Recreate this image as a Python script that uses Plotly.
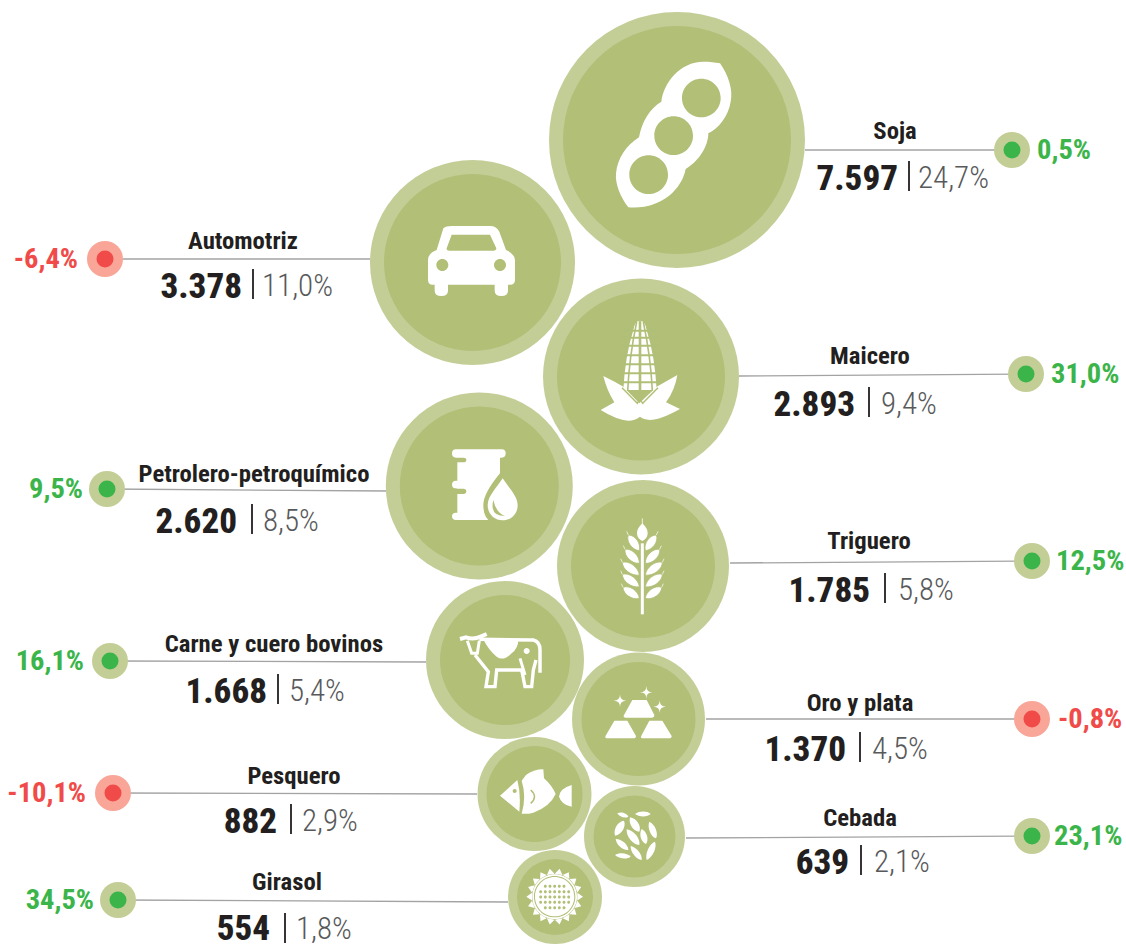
import re
import math
import plotly.graph_objects as go

# ---------- data ----------
sectors = ["Soja", "Automotriz", "Maicero", "Petrolero-petroquímico", "Triguero",
           "Carne y cuero bovinos", "Oro y plata", "Pesquero", "Cebada", "Girasol"]
values = [7597, 3378, 2893, 2620, 1785, 1668, 1370, 882, 639, 554]
shares = [24.7, 11.0, 9.4, 8.5, 5.8, 5.4, 4.5, 2.9, 2.1, 1.8]
changes = [0.5, -6.4, 31.0, 9.5, 12.5, 16.1, -0.8, -10.1, 23.1, 34.5]

# ---------- layout (pixel space of the page) ----------
bubble_x = [677, 472.5, 641, 479.3, 643, 505, 638.5, 534.5, 634.5, 555]
bubble_y = [140, 262.5, 376.5, 486, 566, 660, 719, 794, 836.5, 897]
bubble_d = [256, 205, 196, 187, 172, 158, 133, 114, 101, 94]
inner_d = [228, 177, 168, 159, 144, 130, 114, 96, 82, 76]
dot_x = [1012, 105, 1026, 107, 1032, 110, 1032, 113, 1032, 118]
dot_y = [150, 259, 374, 489, 561, 661, 719, 793, 836, 900]
line_x0 = [805, 370, 739, 386, 730, 426, 706, 477, 686, 508]
line_y0 = [150, 259, 376, 491, 563, 662, 719, 794, 838, 902]
title_x = [895, 243, 870, 254, 869, 274, 860, 294, 860, 287]
title_y = [133, 243, 358, 476, 543, 646, 705, 778, 820, 884]
value_r = [898, 242, 855, 237, 870, 267, 846, 277, 849, 270]
value_y = [178, 286, 404, 521, 590, 691, 749, 821, 862, 930]
value_text_y = [181, 289, 407, 524, 593, 694, 752, 824, 865, 931]
share_text_y = [180, 288, 406, 523, 592, 693, 751, 823, 864, 931]
bar_x = [909, 253, 869, 252, 885, 278, 860, 291, 861, 285]
share_l = [918, 262, 881, 263, 898, 289, 872, 302, 874, 296]
pct_x = [1037, 78, 1051, 83, 1056, 84, 1058, 86, 1054, 94]
pct_y = [152, 261, 376, 491, 563, 663, 721, 795, 838, 902]
side = ["right", "left", "right", "left", "right", "left", "right", "left", "right", "left"]

OUTER = "#c3ce97"
INNER = "#b1bf77"
UP = "#3bb54a"
DOWN = "#f04b48"
DOWN_RING = "#f9a698"
DARK = "#231f20"
GREY = "#58595b"
WHITE = "#ffffff"
NARROW = "Roboto, sans-serif"


def num(v):
    return f"{v:,}".replace(",", ".")


def pct(v):
    return f"{v:.1f}%".replace(".", ",")


# ---------- icon helpers: paths written in the 3x crop space ----------
def z(path, ox, oy):
    vals = iter(range(10 ** 6))

    def rep(m):
        i = next(vals)
        v = float(m.group(0))
        return f"{(ox if i % 2 == 0 else oy) + v / 3:.2f}"

    return re.sub(r"-?\d+\.?\d*", rep, path)


def circ(cx, cy, r):
    k = 0.5523 * r
    return (f"M{cx - r},{cy} C{cx - r},{cy - k} {cx - k},{cy - r} {cx},{cy - r} "
            f"C{cx + k},{cy - r} {cx + r},{cy - k} {cx + r},{cy} "
            f"C{cx + r},{cy + k} {cx + k},{cy + r} {cx},{cy + r} "
            f"C{cx - k},{cy + r} {cx - r},{cy + k} {cx - r},{cy} Z ")


def leaf(x0, y0, x1, y1, w):
    dx, dy = x1 - x0, y1 - y0
    ln = math.hypot(dx, dy)
    nx, ny = -dy / ln * w, dx / ln * w
    return (f"M{x0},{y0} C{x0 + .25 * dx + nx:.1f},{y0 + .25 * dy + ny:.1f} "
            f"{x0 + .8 * dx + nx:.1f},{y0 + .8 * dy + ny:.1f} {x1},{y1} "
            f"C{x0 + .8 * dx - nx:.1f},{y0 + .8 * dy - ny:.1f} "
            f"{x0 + .25 * dx - nx:.1f},{y0 + .25 * dy - ny:.1f} {x0},{y0} Z ")


def star(cx, cy, r):
    return (f"M{cx},{cy - r} Q{cx},{cy} {cx + r},{cy} Q{cx},{cy} {cx},{cy + r} "
            f"Q{cx},{cy} {cx - r},{cy} Q{cx},{cy} {cx},{cy - r} Z ")


shapes = []


def fill(path, ox, oy, color=WHITE, edge=None):
    line = dict(width=0) if edge is None else dict(color=INNER, width=edge)
    shapes.append(dict(type="path", xref="x", yref="y", layer="above", path=z(path, ox, oy),
                       fillcolor=color, line=line))


def stroke(path, ox, oy, color=WHITE, width=2.5):
    shapes.append(dict(type="path", xref="x", yref="y", layer="above", path=z(path, ox, oy),
                       line=dict(color=color, width=width)))


# soybean pod
fill("M540,190 C565,225 580,270 572,305 C565,350 535,385 505,400 C505,440 475,485 437,507 "
     "C425,570 360,630 265,622 C240,590 225,550 228,520 C232,475 260,435 297,412 "
     "C305,365 330,325 364,305 C370,250 420,185 490,185 C510,185 525,187 540,190 Z "
     + circ(484, 294, 58) + circ(401, 407, 58) + circ(326, 524, 58), 540, 0)

# car
fill("M250,205 Q258,198 275,198 L390,198 Q410,198 418,215 L438,270 Q463,280 465,300 L465,360 "
     "Q465,374 450,374 L444,374 L444,392 Q444,408 424,408 Q404,408 404,392 L404,374 L264,374 "
     "L264,392 Q264,408 244,408 Q224,408 224,392 L224,374 L218,374 Q204,374 204,360 L204,300 "
     "Q204,280 230,270 Z "
     "M275,224 L390,224 L409,265 Q409,272 400,272 L268,272 Q258,272 260,265 Z "
     + circ(247, 315, 18) + circ(420, 315, 18), 360, 160)

# corn
fill("M730,648 Q765,665 790,680 L838,730 L890,680 L952,645 Q945,690 918,727 L960,747 "
     "Q900,780 870,780 Q850,778 840,770 Q825,782 805,782 Q770,780 722,750 L763,727 "
     "Q740,690 730,648 Z", 360, 160)
fill("M840,482 Q825,482 820,510 Q795,590 790,690 L890,690 Q885,590 860,510 Q855,482 840,482 Z",
     360, 160)
for gy in [512, 533, 557, 586, 613, 640, 667]:
    stroke(f"M780,{gy} L900,{gy}", 360, 160, INNER, 2)
stroke("M840,482 L840,700", 360, 160, INNER, 2.6)
stroke("M830,486 Q808,590 803,692", 360, 160, INNER, 1.6)
stroke("M850,486 Q872,590 877,692", 360, 160, INNER, 1.6)
stroke("M786,683 L832,730 L838,720 L838,700", 360, 160, INNER, 1.4)
stroke("M894,683 L848,730 L842,720 L842,700", 360, 160, INNER, 1.4)

# barrel and drop
fill("M228,178 L365,178 Q377,178 377,190 Q377,203 365,203 L360,203 L360,390 L228,390 "
     "Q216,390 216,379 Q216,368 228,368 L232,368 L232,312 L250,312 Q259,312 259,304 "
     "Q259,296 250,296 L232,296 L228,295 Q216,295 216,284 Q216,272 228,272 L232,272 L232,217 "
     "L250,217 Q259,217 259,210 Q259,203 250,203 L228,203 Q216,203 216,190 Q216,178 228,178 Z",
     380, 390)
fill("M360,250 Q310,310 310,345 Q310,385 335,397 L420,397 L420,250 Z", 380, 390, INNER)
fill("M368,265 C385,292 413,318 413,346 C413,372 393,391 368,391 C343,391 323,372 323,346 "
     "C323,318 351,292 368,265 Z", 380, 390)
fill("M340,330 Q328,378 375,378 Q348,368 340,330 Z", 380, 390, INNER)

# wheat
stroke("M787,460 L787,673", 380, 390, WHITE, 3)
stroke("M787,385 L787,405", 380, 390, WHITE, 0.8)
fill("M787,400 C797,410 804,420 803,432 C802,443 794,450 787,453 C780,450 772,443 771,432 "
     "C770,420 777,410 787,400 Z", 380, 390)
for tx, ty, by in [(745, 435, 482), (735, 478, 520), (727, 517, 555), (727, 553, 590), (729, 592, 625)]:
    fill(leaf(778, by, tx, ty, 17), 380, 390, WHITE, 0.8)
    fill(leaf(796, by, 2 * 787 - tx, ty, 17), 380, 390, WHITE, 0.8)
    stroke(f"M{tx},{ty} L{tx - 5},{ty - 11}", 380, 390, WHITE, 0.7)
    stroke(f"M{2 * 787 - tx},{ty} L{2 * 787 - tx + 5},{ty - 11}", 380, 390, WHITE, 0.7)

# cow
stroke("M30,57 L48,52 Q70,60 92,50 L110,42", 450, 620, WHITE, 4)
stroke("M52,62 L65,100 L82,100 L88,62", 450, 620, WHITE, 3)
stroke("M88,58 L250,60 Q270,65 270,90 L270,158", 450, 620, WHITE, 3.5)
stroke("M75,105 L115,155 L108,200 L135,200 L140,150 L215,150 L225,200 L245,200 L250,150 L258,120",
       450, 620, WHITE, 3.4)
stroke("M210,115 L225,165", 450, 620, WHITE, 3)
fill("M100,58 L205,58 Q205,85 185,100 Q160,125 140,110 Q115,90 100,58 Z", 450, 620)
fill(circ(230, 93, 9), 450, 620)

# gold bars
fill("M637,150 L680,150 L703,195 Q703,203 695,203 L618,203 Q608,203 612,195 Z "
     "M583,212 L622,212 L648,258 Q648,265 640,265 L563,265 Q553,265 557,257 Z "
     "M688,212 L727,212 L755,258 Q755,265 747,265 L670,265 Q660,265 664,257 Z", 420, 650)
fill(star(600, 152, 19) + star(679, 127, 19) + star(719, 170, 19), 420, 650)

# fish
fill("M240,437 L292,390 Q303,430 298,485 Z " + circ(284, 423, 6), 420, 650)
fill("M318,375 Q340,358 370,358 L372,385 Q395,405 407,432 Q390,470 340,488 Q320,493 305,491 "
     "Q320,440 305,392 Z", 420, 650)
fill("M455,405 Q420,415 417,440 Q425,465 455,470 Z", 420, 650)
stroke("M332,420 Q355,440 332,460", 420, 650, INNER, 1.5)

# barley
for p in [(592, 490, 625, 500, 9), (645, 492, 692, 492, 10), (630, 502, 658, 545, 15),
          (585, 557, 612, 512, 15), (620, 538, 658, 585, 15), (665, 537, 678, 582, 13),
          (688, 515, 708, 565, 13), (587, 567, 625, 600, 12), (632, 588, 665, 630, 12),
          (585, 615, 632, 620, 10), (680, 630, 705, 575, 13)]:
    fill(leaf(*p), 420, 650)

# sunflower
cx0, cy0 = 404, 740
petals = ""
for k in range(18):
    a = 2 * math.pi * k / 18
    b = a + 0.17
    c = a - 0.17
    petals += (f"M{cx0 + 69 * math.cos(b):.1f},{cy0 + 69 * math.sin(b):.1f} "
               f"L{cx0 + 85 * math.cos(a):.1f},{cy0 + 85 * math.sin(a):.1f} "
               f"L{cx0 + 69 * math.cos(c):.1f},{cy0 + 69 * math.sin(c):.1f} Z ")
fill(petals, 420, 650)
fill(circ(cx0, cy0, 67) + circ(cx0, cy0, 62), 420, 650)
holes = ""
seed_rows = [(709, 2), (725, 3), (741, 3), (757, 3), (773, 2)]
for ry, half in seed_rows:
    for j in range(-half, half + 1):
        holes += circ(cx0 + j * 14, ry, 4.5)
fill(circ(cx0, cy0, 59) + holes, 420, 650)

# ---------- traces ----------
fig = go.Figure()

line_xs, line_ys = [], []
for i in range(len(sectors)):
    line_xs += [line_x0[i], dot_x[i], None]
    line_ys += [line_y0[i], dot_y[i], None]
fig.add_trace(go.Scatter(x=line_xs, y=line_ys, mode="lines", line=dict(color="#a3a3a3", width=1.3)))

fig.add_trace(go.Scatter(x=bubble_x, y=bubble_y, mode="markers", cliponaxis=False,
                         marker=dict(size=bubble_d, color=OUTER, opacity=1, line=dict(width=0))))
fig.add_trace(go.Scatter(x=bubble_x, y=bubble_y, mode="markers", cliponaxis=False,
                         marker=dict(size=inner_d, color=INNER, opacity=1, line=dict(width=0))))

fig.add_trace(go.Scatter(x=dot_x, y=dot_y, mode="markers",
                         marker=dict(size=36, opacity=1, line=dict(width=0),
                                     color=[OUTER if c >= 0 else DOWN_RING for c in changes])))
fig.add_trace(go.Scatter(x=dot_x, y=dot_y, mode="markers",
                         marker=dict(size=17, opacity=1, line=dict(width=0),
                                     color=[UP if c >= 0 else DOWN for c in changes])))

fig.add_trace(go.Scatter(x=title_x, y=title_y, mode="text", text=sectors, cliponaxis=False,
                         textposition="middle center",
                         textfont=dict(family=NARROW, size=24.7, color=DARK, weight=700)))
fig.add_trace(go.Scatter(x=value_r, y=value_text_y, mode="text", text=[num(v) for v in values],
                         cliponaxis=False, textposition="middle left",
                         textfont=dict(family=NARROW, size=35, color=DARK, weight=800)))
fig.add_trace(go.Scatter(x=share_l, y=share_text_y, mode="text", text=[pct(v) for v in shares],
                         cliponaxis=False, textposition="middle right",
                         textfont=dict(family=NARROW, size=31, color=GREY, weight=300)))
fig.add_trace(go.Scatter(x=pct_x, y=pct_y, mode="text", text=[pct(v) for v in changes],
                         cliponaxis=False,
                         textposition=["middle right" if s == "right" else "middle left" for s in side],
                         textfont=dict(family=NARROW, size=28.5, weight=700,
                                       color=[UP if c >= 0 else DOWN for c in changes])))

bar_xs, bar_ys = [], []
for i in range(len(sectors)):
    bar_xs += [bar_x[i], bar_x[i], None]
    bar_ys += [value_y[i] - 17, value_y[i] + 13, None]
fig.add_trace(go.Scatter(x=bar_xs, y=bar_ys, mode="lines", line=dict(color=DARK, width=1.8)))

fig.update_layout(
    width=1126, height=945, margin=dict(l=0, r=0, t=0, b=0), showlegend=False,
    paper_bgcolor="white", plot_bgcolor="white", shapes=shapes, hovermode=False,
    xaxis=dict(range=[0, 1126], visible=False, fixedrange=True),
    yaxis=dict(range=[945, 0], visible=False, fixedrange=True),
)
js = ("document.body.style.margin='0';document.body.style.overflow='hidden';"
      "document.querySelectorAll('.textpoint text').forEach(function(t){t.style.fontStretch='75%';});")
fig.write_html("out.html", config=dict(displayModeBar=False), post_script=js)
